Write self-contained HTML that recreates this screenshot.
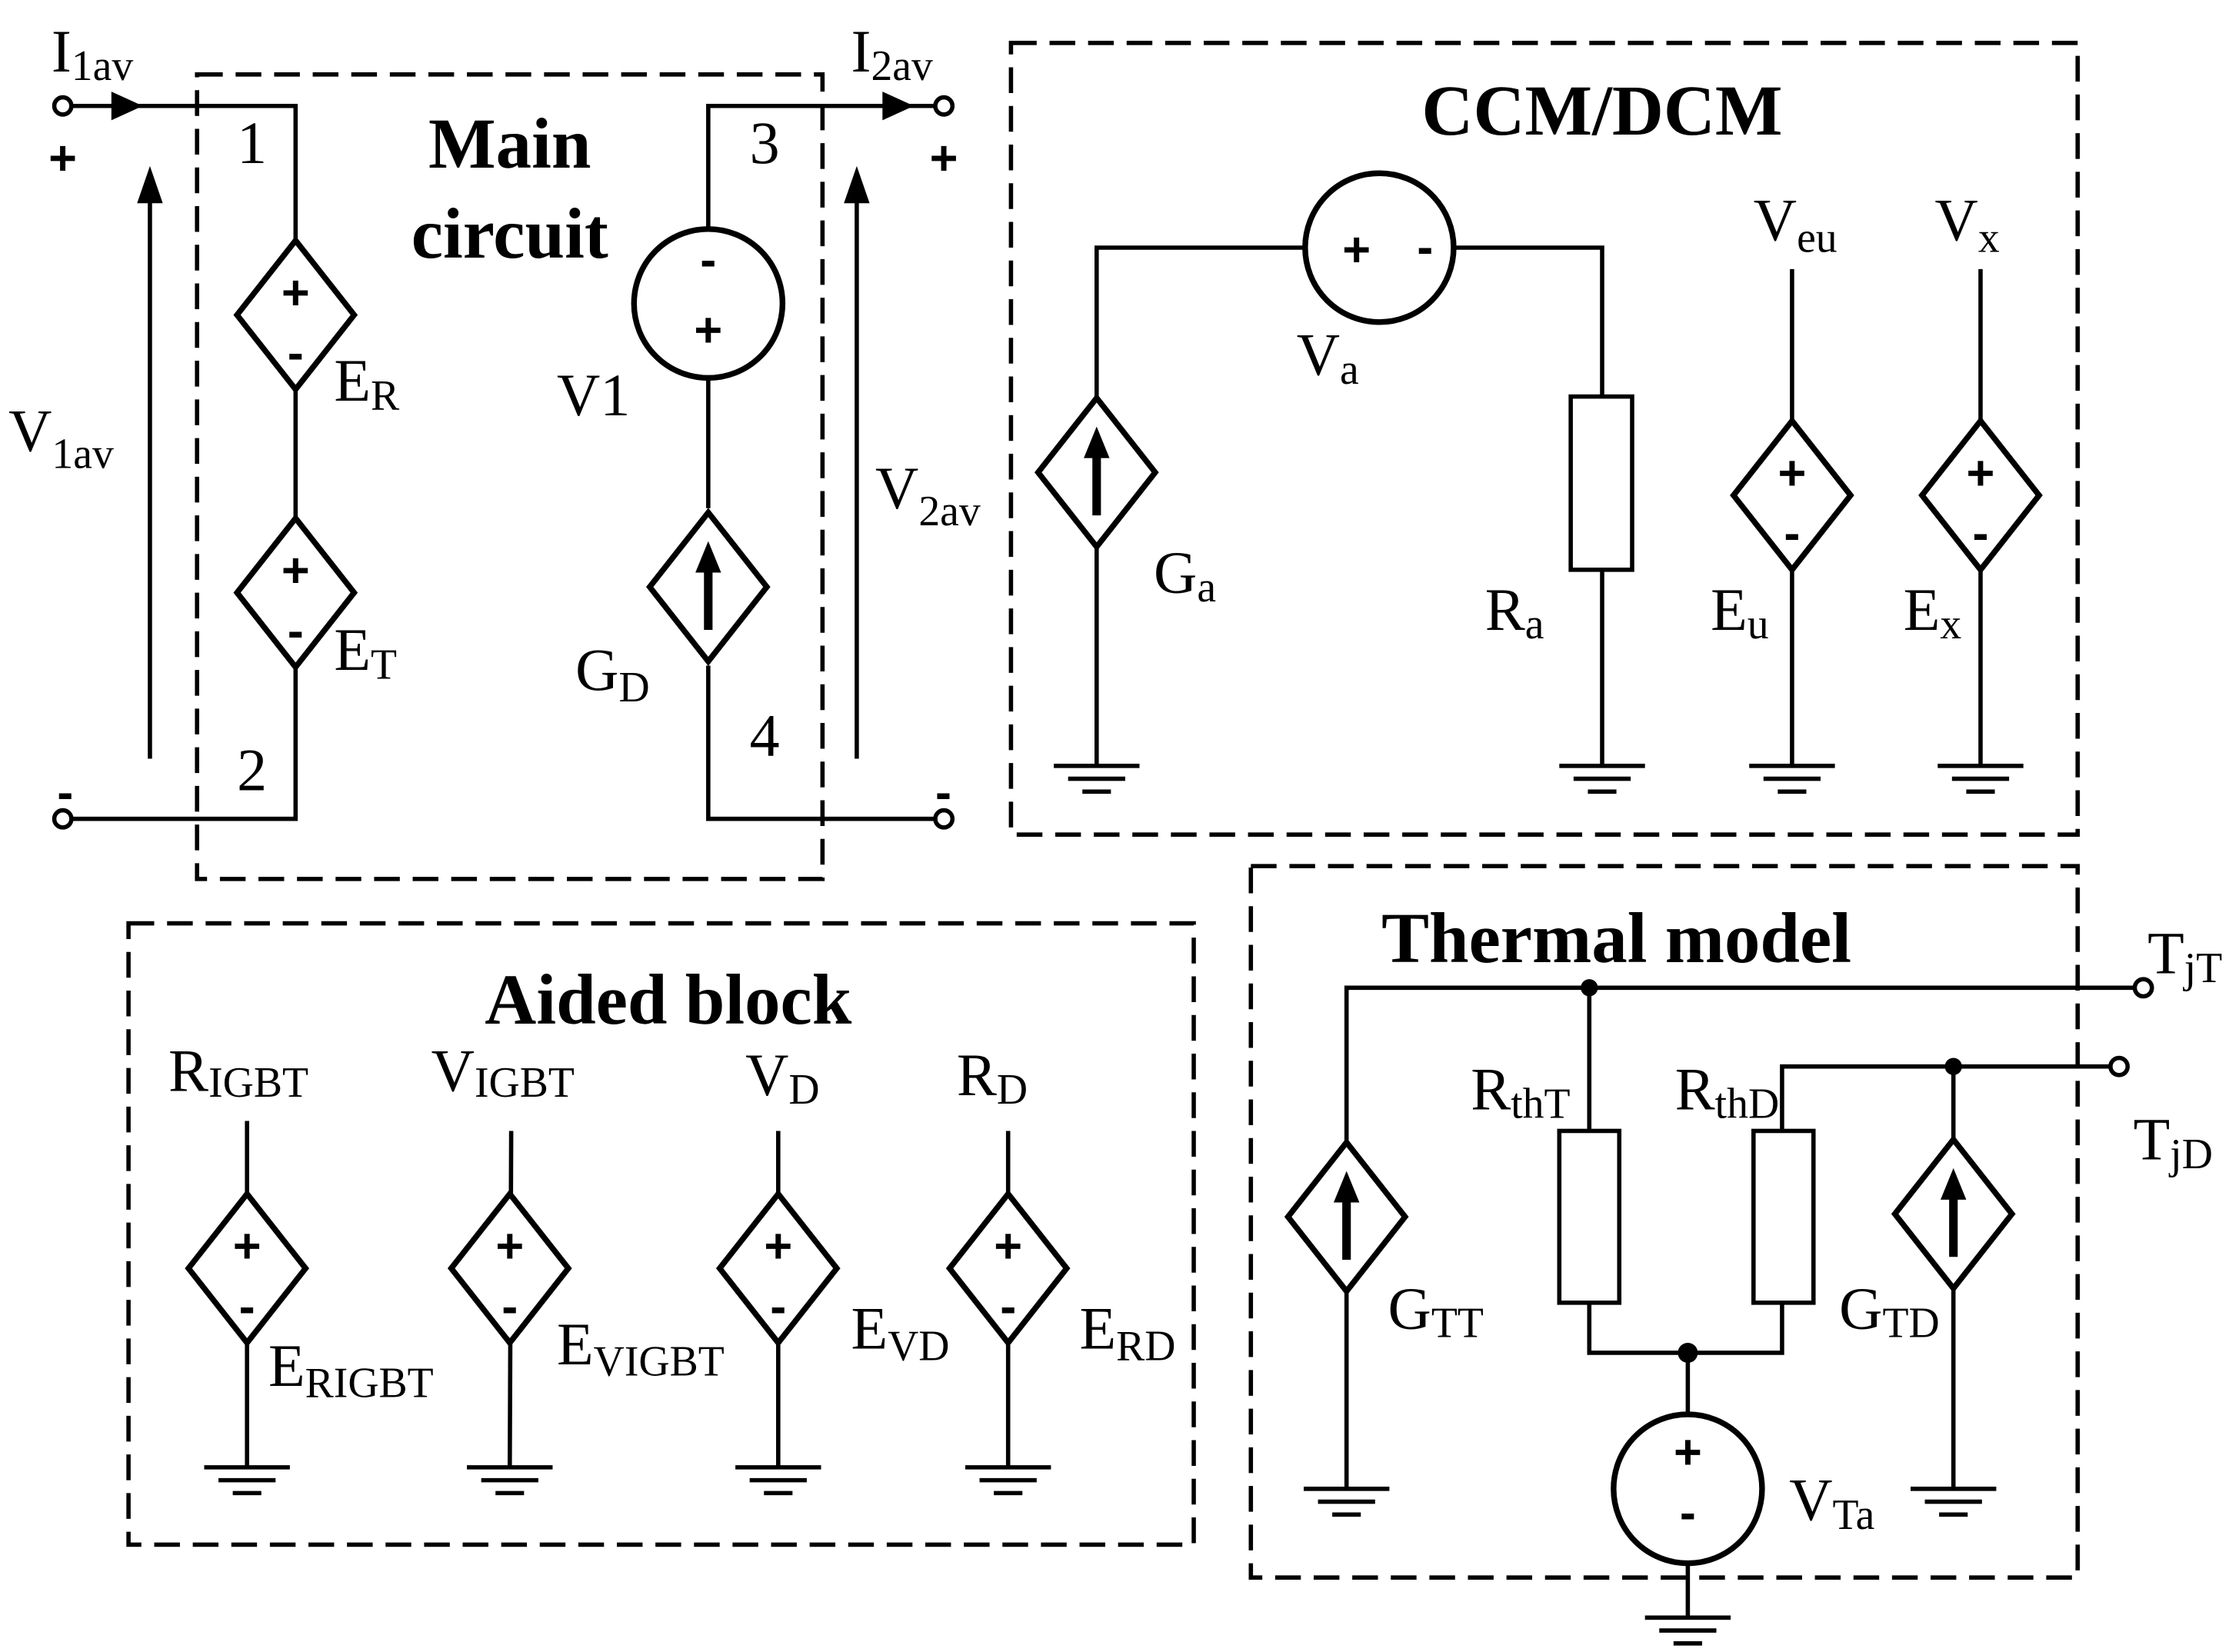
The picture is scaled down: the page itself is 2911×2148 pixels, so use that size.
<!DOCTYPE html>
<html><head><meta charset="utf-8"><style>
html,body{margin:0;padding:0;background:#fff;}
svg{display:block;}
text{font-family:"Liberation Serif",serif;fill:#000;}
.t{font-size:42px;}
.s{font-size:30px;}
.b{font-size:50px;font-weight:bold;}
.pm{font-size:34px;font-weight:bold;font-family:"Liberation Sans",sans-serif;}
</style></head><body>
<svg width="2911" height="2148" viewBox="0 0 1568 1154" preserveAspectRatio="none" xmlns="http://www.w3.org/2000/svg">
<defs>
<g id="gnd" stroke="#000" stroke-width="3"><line x1="-30" y1="0" x2="30" y2="0"/><line x1="-20" y1="9" x2="20" y2="9"/><line x1="-10" y1="18" x2="10" y2="18"/></g>
<g id="dia"><polygon points="0,-52 41,0 0,52 -41,0" fill="#fff" stroke="#000" stroke-width="4"/></g>
<g id="ediamond"><use href="#dia"/><text class="pm" x="0" y="-4" text-anchor="middle">+</text><text class="pm" x="0" y="38" text-anchor="middle">-</text></g>
<g id="gdiamond"><use href="#dia"/><line x1="0" y1="30" x2="0" y2="-12" stroke="#000" stroke-width="6"/><polygon points="-9,-10 9,-10 0,-32" fill="#000"/></g>
</defs>
<g fill="none" stroke="#000" stroke-width="3" stroke-dasharray="18,9">
<rect x="138" y="52" width="438" height="562"/>
<rect x="708" y="30" width="747" height="553"/>
<rect x="90" y="645" width="746" height="434"/>
<rect x="876" y="605" width="579" height="497"/>
</g>
<g stroke="#000" stroke-width="3" fill="none">
<polyline points="50,74 207,74 207,168"/>
<line x1="207" y1="272" x2="207" y2="362"/>
<polyline points="207,466 207,572 50,572"/>
<circle cx="44" cy="74" r="6" fill="#fff"/>
<circle cx="44" cy="572" r="6" fill="#fff"/>
<line x1="105" y1="530" x2="105" y2="140"/>
<line x1="600" y1="530" x2="600" y2="140"/>
<polyline points="655,74 496,74 496,160"/>
<line x1="496" y1="264" x2="496" y2="355"/>
<polyline points="496,465 496,572 655,572"/>
<circle cx="661" cy="74" r="6" fill="#fff"/>
<circle cx="661" cy="572" r="6" fill="#fff"/>
<circle cx="496" cy="212" r="52" stroke-width="4"/>
</g>
<polygon points="78,64 78,84 100,74" fill="#000"/>
<polygon points="618,64 618,84 640,74" fill="#000"/>
<polygon points="96,142 114,142 105,116" fill="#000"/>
<polygon points="591,142 609,142 600,116" fill="#000"/>
<use href="#ediamond" x="207" y="220"/>
<use href="#ediamond" x="207" y="414"/>
<use href="#gdiamond" x="496" y="410"/>
<text class="pm" x="496" y="193" text-anchor="middle">-</text>
<text class="pm" x="496" y="242" text-anchor="middle">+</text>
<text class="t" x="36" y="50">I<tspan class="s" dy="6">1av</tspan></text>
<text class="t" x="596" y="50">I<tspan class="s" dy="6">2av</tspan></text>
<text class="pm" x="34" y="122">+</text>
<text class="pm" x="651" y="122">+</text>
<text class="pm" x="40" y="565">-</text>
<text class="pm" x="655" y="565">-</text>
<text class="t" x="6" y="315">V<tspan class="s" dy="12">1av</tspan></text>
<text class="t" x="613" y="355">V<tspan class="s" dy="12">2av</tspan></text>
<text class="t" x="166" y="114">1</text>
<text class="t" x="166" y="552">2</text>
<text class="t" x="525" y="114">3</text>
<text class="t" x="525" y="528">4</text>
<text class="t" x="234" y="280">E<tspan class="s" dy="6">R</tspan></text>
<text class="t" x="234" y="468">E<tspan class="s" dy="6">T</tspan></text>
<text class="t" x="390" y="290">V1</text>
<text class="t" x="403" y="482">G<tspan class="s" dy="8">D</tspan></text>
<text class="b" x="357" y="117" text-anchor="middle">Main</text>
<text class="b" x="357" y="180" text-anchor="middle">circuit</text>
<text class="b" x="1122" y="94" text-anchor="middle">CCM/DCM</text>
<g stroke="#000" stroke-width="3" fill="none">
<polyline points="768,535 768,173 914,173"/>
<polyline points="1018,173 1122,173 1122,277"/>
<line x1="1122" y1="398" x2="1122" y2="535"/>
<rect x="1100" y="277" width="43" height="121"/>
<circle cx="966" cy="173" r="52" stroke-width="4"/>
<line x1="1255" y1="188" x2="1255" y2="535"/>
<line x1="1387" y1="188" x2="1387" y2="535"/>
</g>
<use href="#gdiamond" x="768" y="330"/>
<use href="#ediamond" x="1255" y="346"/>
<use href="#ediamond" x="1387" y="346"/>
<use href="#gnd" x="768" y="535"/><use href="#gnd" x="1122" y="535"/><use href="#gnd" x="1255" y="535"/><use href="#gnd" x="1387" y="535"/>
<text class="pm" x="950" y="186" text-anchor="middle">+</text>
<text class="pm" x="998" y="184" text-anchor="middle">-</text>
<text class="t" x="908" y="262">V<tspan class="s" dy="6">a</tspan></text>
<text class="t" x="808" y="414">G<tspan class="s" dy="6">a</tspan></text>
<text class="t" x="1040" y="440">R<tspan class="s" dy="6">a</tspan></text>
<text class="t" x="1198" y="440">E<tspan class="s" dy="6">u</tspan></text>
<text class="t" x="1333" y="440">E<tspan class="s" dy="6">x</tspan></text>
<text class="t" x="1228" y="168">V<tspan class="s" dy="8">eu</tspan></text>
<text class="t" x="1355" y="168">V<tspan class="s" dy="8">x</tspan></text>
<text class="b" x="468" y="715" text-anchor="middle">Aided block</text>
<g stroke="#000" stroke-width="3">
<line x1="173" y1="783" x2="173" y2="1025"/>
<line x1="358" y1="790" x2="357" y2="1025"/>
<line x1="545" y1="790" x2="545" y2="1025"/>
<line x1="706" y1="790" x2="706" y2="1025"/>
</g>
<use href="#ediamond" x="173" y="886"/>
<use href="#ediamond" x="357" y="886"/>
<use href="#ediamond" x="545" y="886"/>
<use href="#ediamond" x="706" y="886"/>
<use href="#gnd" x="173" y="1025"/><use href="#gnd" x="357" y="1025"/><use href="#gnd" x="545" y="1025"/><use href="#gnd" x="706" y="1025"/>
<text class="t" x="118" y="762">R<tspan class="s" dy="4">IGBT</tspan></text>
<text class="t" x="302" y="762">V<tspan class="s" dy="4">IGBT</tspan></text>
<text class="t" x="522" y="765">V<tspan class="s" dy="6">D</tspan></text>
<text class="t" x="670" y="765">R<tspan class="s" dy="6">D</tspan></text>
<text class="t" x="188" y="968">E<tspan class="s" dy="8">RIGBT</tspan></text>
<text class="t" x="390" y="953">E<tspan class="s" dy="8">VIGBT</tspan></text>
<text class="t" x="596" y="942">E<tspan class="s" dy="8">VD</tspan></text>
<text class="t" x="756" y="942">E<tspan class="s" dy="8">RD</tspan></text>
<text class="b" x="1132" y="672" text-anchor="middle">Thermal model</text>
<g stroke="#000" stroke-width="3" fill="none">
<polyline points="943,1040 943,690 1495,690"/>
<line x1="1113" y1="690" x2="1113" y2="790"/>
<rect x="1092" y="790" width="42" height="120"/>
<polyline points="1113,910 1113,945 1248,945 1248,910"/>
<rect x="1228" y="790" width="42" height="120"/>
<polyline points="1248,790 1248,745 1478,745"/>
<line x1="1368" y1="745" x2="1368" y2="1040"/>
<line x1="1182" y1="945" x2="1182" y2="1130"/>
<circle cx="1182" cy="1040" r="52" fill="#fff" stroke-width="4"/>
<circle cx="1501" cy="690" r="6" fill="#fff"/>
<circle cx="1484" cy="745" r="6" fill="#fff"/>
</g>
<circle cx="1113" cy="690" r="6" fill="#000"/>
<circle cx="1368" cy="745" r="6" fill="#000"/>
<circle cx="1182" cy="945" r="7" fill="#000"/>
<use href="#gdiamond" x="943" y="850"/>
<use href="#gdiamond" x="1368" y="848"/>
<use href="#gnd" x="943" y="1040"/><use href="#gnd" x="1368" y="1040"/><use href="#gnd" x="1182" y="1130"/>
<text class="pm" x="1182" y="1026" text-anchor="middle">+</text>
<text class="pm" x="1182" y="1068" text-anchor="middle">-</text>
<text class="t" x="1030" y="775">R<tspan class="s" dy="6">thT</tspan></text>
<text class="t" x="1173" y="775">R<tspan class="s" dy="6">thD</tspan></text>
<text class="t" x="972" y="928">G<tspan class="s" dy="6">TT</tspan></text>
<text class="t" x="1288" y="928">G<tspan class="s" dy="6">TD</tspan></text>
<text class="t" x="1253" y="1062">V<tspan class="s" dy="6">Ta</tspan></text>
<text class="t" x="1504" y="680">T<tspan class="s" dy="6">jT</tspan></text>
<text class="t" x="1494" y="810">T<tspan class="s" dy="6">jD</tspan></text>
</svg>
</body></html>
